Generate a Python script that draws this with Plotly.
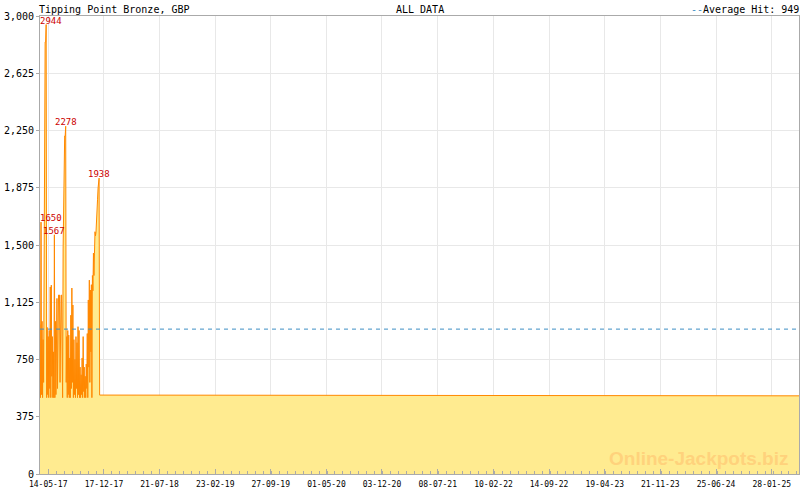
import plotly.graph_objects as go
import pandas as pd

title_left = "Tipping Point Bronze, GBP"
title_mid = "ALL DATA"
average_hit = 949

dates = [
    "2017-04-12", "2017-04-14", "2017-04-16", "2017-04-18", "2017-04-20", "2017-04-22", "2017-04-24",
    "2017-04-26", "2017-04-28", "2017-04-30",
    "2017-05-02", "2017-05-04", "2017-05-06", "2017-05-08", "2017-05-10", "2017-05-12", "2017-05-14",
    "2017-05-16", "2017-05-18", "2017-05-20", "2017-05-22", "2017-05-24", "2017-05-26", "2017-05-28",
    "2017-05-30",
    "2017-06-01", "2017-06-03", "2017-06-05", "2017-06-07", "2017-06-09", "2017-06-11", "2017-06-13",
    "2017-06-15", "2017-06-17", "2017-06-19", "2017-06-21", "2017-06-23", "2017-06-25", "2017-06-27",
    "2017-06-29",
    "2017-07-01", "2017-07-03", "2017-07-05", "2017-07-07", "2017-07-09", "2017-07-11", "2017-07-13",
    "2017-07-15", "2017-07-17", "2017-07-19", "2017-07-21", "2017-07-23", "2017-07-25", "2017-07-27",
    "2017-07-29", "2017-07-31",
    "2017-08-02", "2017-08-04", "2017-08-06", "2017-08-08", "2017-08-10", "2017-08-12", "2017-08-14",
    "2017-08-16", "2017-08-18", "2017-08-20", "2017-08-22", "2017-08-24", "2017-08-26", "2017-08-28",
    "2017-08-30",
    "2017-09-01", "2017-09-03", "2017-09-05", "2017-09-07", "2017-09-09", "2017-09-11", "2017-09-13",
    "2017-09-15", "2017-09-17", "2017-09-19", "2017-09-21", "2017-09-23", "2017-09-25", "2017-09-27",
    "2017-09-29",
    "2017-10-01", "2017-10-03", "2017-10-05", "2017-10-07", "2017-10-09", "2017-10-11", "2017-10-13",
    "2017-10-15", "2017-10-17", "2017-10-19", "2017-10-21", "2017-10-23", "2017-10-25", "2017-10-27",
    "2017-10-29", "2017-10-31",
    "2017-11-02", "2017-11-04", "2017-11-06", "2017-11-08", "2017-11-10", "2017-11-12", "2017-11-14",
    "2017-11-16", "2017-11-18", "2017-11-20", "2017-11-22", "2017-11-24", "2017-11-26", "2017-11-28",
    "2017-11-30",
    "2025-05-14",
]

values = [
    980, 500, 1650, 520, 1000, 500, 880, 600, 1784, 1784,
    2830, 2830, 2944, 500, 960, 520, 900, 500, 940, 560, 1225, 500, 1237, 640, 900,
    500, 800, 500, 1567, 500, 1000, 520, 1100, 1150, 560, 1170, 1172, 1172, 1172, 600,
    1172, 1172, 1172, 766, 500, 1480, 1937, 1937, 2214, 2214, 2278, 600, 900, 500, 940, 520,
    910, 500, 760, 500, 1040, 560, 1218, 600, 1107, 500, 880, 520, 750, 500, 900,
    560, 860, 500, 965, 520, 940, 500, 700, 500, 650, 520, 760, 500, 900,
    540, 700, 500, 640, 500, 720, 560, 920, 500, 1140, 700, 1270, 600, 1205, 800, 1240, 500,
    1300, 1200, 1447, 1300, 1447, 1587, 1560, 1586, 1700, 1762, 1800, 1873, 1900, 1938,
    517,
    512,
]

peak_labels = [2944, 2278, 1938, 1650, 1567]

tick_labels = ["14-05-17", "17-12-17", "21-07-18", "23-02-19", "27-09-19", "01-05-20", "03-12-20",
               "08-07-21", "10-02-22", "14-09-22", "19-04-23", "21-11-23", "25-06-24", "28-01-25"]
y_ticks = [0, 375, 750, 1125, 1500, 1875, 2250, 2625, 3000]

x_start, x_end = "2017-04-12", "2025-05-14"

tick_dates = pd.to_datetime(tick_labels, format="%d-%m-%y")

mono = "DejaVu Sans Mono"
axis_gray = "#aaaaaa"
grid_gray = "#e8e8e8"

fig = go.Figure()
fig.add_trace(go.Scatter(
    x=pd.to_datetime(dates), y=values, mode="lines",
    line=dict(color="#ff8800", width=1),
    fill="tozeroy", fillcolor="#ffeb90",
    hoverinfo="skip", showlegend=False,
))

fig.add_trace(go.Scatter(
    x=[x_start, x_end], y=[average_hit, average_hit], mode="lines",
    line=dict(color="#3d8fc4", width=1, dash="4px,4px"),
    hoverinfo="skip", showlegend=False,
))

annotations = []
for pv in peak_labels:
    i = values.index(pv)
    d = pd.to_datetime(dates[i])
    ann = dict(x=d, y=pv, xref="x", yref="y", text=str(pv), showarrow=False,
               font=dict(family=mono, size=9, color="#cc0000"),
               xanchor="center", yanchor="bottom", yshift=-3)
    if (d - pd.to_datetime(x_start)).days < 30:
        ann.update(x=pd.to_datetime(x_start), xanchor="left", xshift=-2)
    annotations.append(ann)

annotations += [
    dict(x=0, y=1, xref="paper", yref="paper", text=title_left, showarrow=False,
         xanchor="left", yanchor="bottom", font=dict(family=mono, size=10, color="#000"), yshift=-1, xshift=-3),
    dict(x=0.5, y=1, xref="paper", yref="paper", text=title_mid, showarrow=False,
         xanchor="center", yanchor="bottom", font=dict(family=mono, size=10, color="#000"), yshift=-1),
    dict(x=1, y=1, xref="paper", yref="paper",
         text="<span style='color:#3d8fc4'>--</span>Average Hit: %d" % average_hit, showarrow=False,
         xanchor="right", yanchor="bottom", font=dict(family=mono, size=10, color="#000"), yshift=-1, xshift=2),
    dict(x=0.988, y=0.0, xref="paper", yref="paper", text="<b>Online-Jackpots.biz</b>", showarrow=False,
         xanchor="right", yanchor="bottom", yshift=3,
         font=dict(family="Liberation Sans", size=19, color="#ffd27c")),
]

fig.update_layout(
    width=800, height=490,
    margin=dict(l=40, r=1, t=16, b=16, autoexpand=False),
    paper_bgcolor="white", plot_bgcolor="white",
    annotations=annotations,
    xaxis=dict(
        type="date", range=[x_start, x_end], automargin=False,
        tickvals=tick_dates, ticktext=tick_labels,
        tickfont=dict(family=mono, size=8, color="#000"),
        ticks="inside", ticklen=5, tickcolor=axis_gray, ticklabelstandoff=2,
        showgrid=True, gridcolor=grid_gray, gridwidth=1,
        showline=True, linecolor=axis_gray, linewidth=1, mirror=True,
        minor=dict(tick0="2017-05-14", dtick=31 * 86400000, ticks="inside", ticklen=3,
                   tickcolor=axis_gray, showgrid=False),
        zeroline=False,
    ),
    yaxis=dict(
        range=[0, 3000], tickvals=y_ticks, tickformat=",", automargin=False,
        tickfont=dict(family=mono, size=10, color="#000"),
        ticks="outside", ticklen=3, tickcolor=axis_gray,
        showgrid=True, gridcolor=grid_gray, gridwidth=1,
        showline=True, linecolor=axis_gray, linewidth=1, mirror=True,
        zeroline=False,
    ),
)

fig.write_html("out.html", config={"displayModeBar": False},
               post_script="document.body.style.margin='0';document.body.style.overflow='hidden';")
